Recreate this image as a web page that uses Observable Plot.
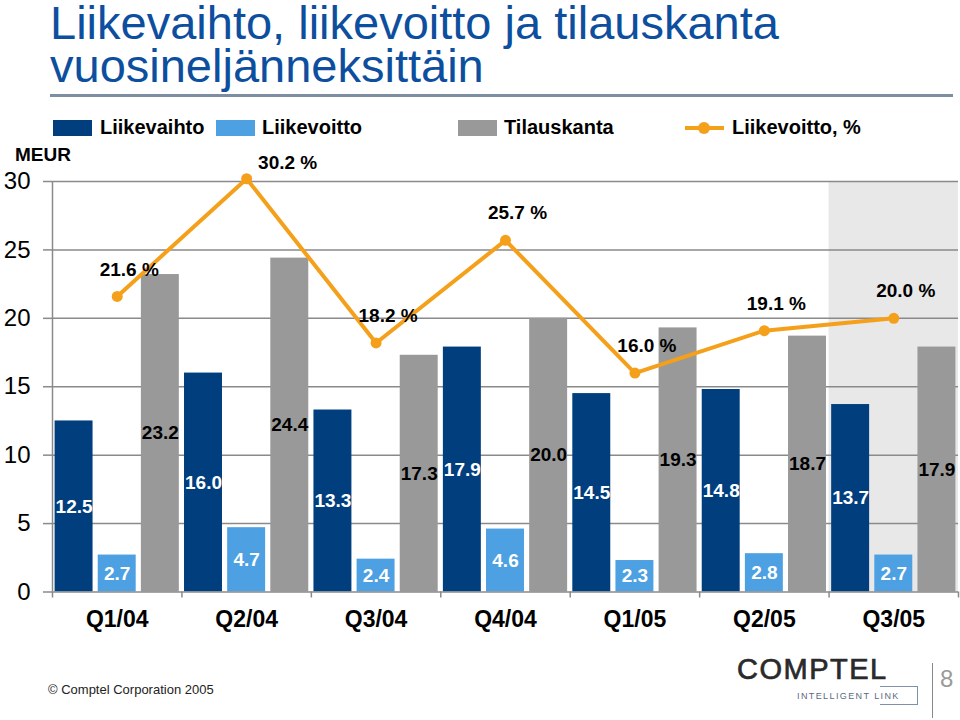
<!DOCTYPE html>
<html>
<head>
<meta charset="utf-8">
<script src="https://cdn.jsdelivr.net/npm/d3@7"></script>
<script src="https://cdn.jsdelivr.net/npm/@observablehq/plot@0.6"></script>
<style>
  body { margin: 0; background: #fff; font-family: "Liberation Sans", Arial, sans-serif; }
  #page { position: relative; width: 960px; height: 720px; overflow: hidden; background: #fff; }
  .abs { position: absolute; white-space: nowrap; }
  .title { left: 50px; font-size: 47px; color: #0d4f9e; }
  .rule { left: 50px; top: 94px; width: 903px; height: 3px; background: #7d8ea0; }
  .sw { height: 16px; width: 39px; top: 120px; }
  .lg { top: 117px; font-size: 20px; line-height: 20px; font-weight: bold; color: #000; }
  .meur { left: 15px; top: 145px; font-size: 19px; line-height: 19px; font-weight: bold; }
  #chart { position: absolute; left: 0; top: 150px; }
</style>
</head>
<body>
<div id="page">
  <div class="abs title" style="top:0px;line-height:45px;">Liikevaihto, liikevoitto ja tilauskanta</div>
  <div class="abs title" style="top:45px;line-height:42px;">vuosineljänneksittäin</div>
  <div class="abs rule"></div>
  <div id="legend"></div>
  <div class="abs meur">MEUR</div>
  <div id="chart"></div>
  <div class="abs" style="left:48px;top:683px;font-size:13px;line-height:13px;color:#222;">© Comptel Corporation 2005</div>
  <div class="abs" style="left:737px;top:655px;font-size:29px;line-height:29px;color:#2a2a2a;letter-spacing:1.5px;-webkit-text-stroke:0.7px #2a2a2a;">COMPTEL</div>
  <div class="abs" style="left:797px;top:692px;font-size:9px;line-height:9px;color:#5a6a80;letter-spacing:1.4px;">INTELLIGENT LINK</div>
  <div class="abs" style="left:880px;top:686px;width:37px;height:17px;border-top:1.5px solid #7f90aa;border-right:1.5px solid #7f90aa;border-bottom:1.5px solid #7f90aa;"></div>
  <div class="abs" style="left:932px;top:663px;width:1px;height:55px;background:#888;"></div>
  <div class="abs" style="left:940px;top:667px;font-size:24px;line-height:24px;color:#9a9a9a;">8</div>
</div>
<script>
// ---- data ----
const quarters = ["Q1/04", "Q2/04", "Q3/04", "Q4/04", "Q1/05", "Q2/05", "Q3/05"];
const liikevaihto = [12.5, 16.0, 13.3, 17.9, 14.5, 14.8, 13.7];
const liikevoitto = [2.7, 4.7, 2.4, 4.6, 2.3, 2.8, 2.7];
const tilauskanta = [23.2, 24.4, 17.3, 20.0, 19.3, 18.7, 17.9];
const liikevoittoPct = [21.6, 30.2, 18.2, 25.7, 16.0, 19.1, 20.0];
const seriesNames = ["Liikevaihto", "Liikevoitto", "Tilauskanta"];
const lineName = "Liikevoitto, %";
const yTicks = [0, 5, 10, 15, 20, 25, 30];
const highlightQuarter = "Q3/05";

// ---- styles ----
const seriesColors = ["#003e7e", "#4da0e2", "#999999"];
const lineColor = "#f5a01a";
const gridColor = "#8a8a8a";

// ---- legend (HTML) ----
const legend = document.getElementById("legend");
const legendPos = [[53, 100], [216, 262], [458, 504]];
seriesNames.forEach((s, j) => {
  const sw = document.createElement("div");
  sw.className = "abs sw";
  sw.style.left = legendPos[j][0] + "px";
  sw.style.background = seriesColors[j];
  legend.appendChild(sw);
  const t = document.createElement("div");
  t.className = "abs lg";
  t.style.left = legendPos[j][1] + "px";
  t.textContent = s;
  legend.appendChild(t);
});
{
  const ln = document.createElement("div");
  ln.className = "abs";
  Object.assign(ln.style, {left: "685px", top: "126px", width: "39px", height: "4px", background: lineColor});
  legend.appendChild(ln);
  const dt = document.createElement("div");
  dt.className = "abs";
  Object.assign(dt.style, {left: "698px", top: "122px", width: "12px", height: "12px", borderRadius: "6px", background: lineColor});
  legend.appendChild(dt);
  const t = document.createElement("div");
  t.className = "abs lg";
  t.style.left = "732px";
  t.textContent = lineName;
  legend.appendChild(t);
}

// ---- chart data tables ----
const n = quarters.length;
const seriesArrays = [liikevaihto, liikevoitto, tilauskanta];
const bars = [];
quarters.forEach((q, i) => {
  seriesArrays.forEach((arr, j) => {
    bars.push({quarter: q, series: seriesNames[j], value: arr[i],
               x1: 3 * i + j + 0.06, x2: 3 * i + j + 0.94, xc: 3 * i + j + 0.5});
  });
});
const linePts = quarters.map((q, i) => ({quarter: q, x: 3 * i + 1.5, pct: liikevoittoPct[i]}));
const maxPct = d3.max(liikevoittoPct);
const hi = quarters.indexOf(highlightQuarter);

const chart = Plot.plot({
  width: 960,
  height: 490,
  marginTop: 31,
  marginBottom: 48.5,
  marginLeft: 52,
  marginRight: 2,
  style: {fontFamily: "'Liberation Sans', Arial, sans-serif", background: "transparent", overflow: "visible", color: "#000"},
  x: {type: "linear", domain: [0, 3 * n], axis: null},
  y: {domain: [0, 30], axis: null},
  color: {domain: seriesNames, range: seriesColors},
  marks: [
    Plot.rect([hi], {x1: d => 3 * d, x2: d => 3 * d + 3, y1: 0, y2: 30, fill: "#e8e8e8"}),
    Plot.ruleY(yTicks.filter(v => v > 0), {stroke: gridColor, strokeWidth: 1.5}),
    Plot.axisY({ticks: yTicks, tickSize: 9, tickPadding: 13, fontSize: 24, stroke: gridColor, fill: "#000", strokeWidth: 1.5, label: null, tickFormat: d => String(d)}),
    Plot.ruleX([0], {y1: 0, y2: 30, stroke: gridColor, strokeWidth: 1.5}),
    Plot.axisX({ticks: d3.range(0, 3 * n + 1, 3), tickSize: 6, tickFormat: () => "", stroke: gridColor, strokeWidth: 1.5, label: null}),
    Plot.axisX({ticks: linePts.map(d => d.x), tickSize: 0, tickPadding: 19, fontSize: 23, fontWeight: "bold", fill: "#000",
                tickFormat: v => quarters[Math.floor(v / 3)], label: null}),
    Plot.rectY(bars, {x1: "x1", x2: "x2", y: "value", fill: "series"}),
    Plot.ruleY([0], {stroke: gridColor, strokeWidth: 1.5}),
    Plot.text(bars.filter(d => d.series !== "Tilauskanta"), {x: "xc", y: d => d.value / 2, text: d => d.value.toFixed(1), fill: "#fff", fontSize: 19, fontWeight: "bold"}),
    Plot.text(bars.filter(d => d.series === "Tilauskanta"), {x: "xc", y: d => d.value / 2, text: d => d.value.toFixed(1), fill: "#000", fontSize: 19, fontWeight: "bold"}),
    Plot.line(linePts, {x: "x", y: "pct", stroke: lineColor, strokeWidth: 4}),
    Plot.dot(linePts, {x: "x", y: "pct", r: 5.5, fill: lineColor}),
    Plot.text(linePts.filter(d => d.pct !== maxPct), {x: "x", y: "pct", text: d => d.pct.toFixed(1) + " %", dx: 12, dy: -27, fontSize: 19, fontWeight: "bold", fill: "#000"}),
    Plot.text(linePts.filter(d => d.pct === maxPct), {x: "x", y: "pct", text: d => d.pct.toFixed(1) + " %", dx: 41, dy: -16, fontSize: 19, fontWeight: "bold", fill: "#000"})
  ]
});
document.getElementById("chart").appendChild(chart);
</script>
</body>
</html>
